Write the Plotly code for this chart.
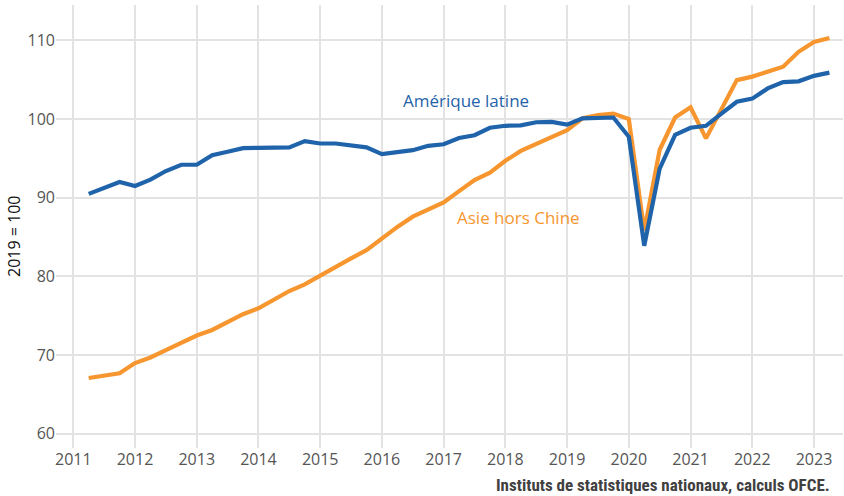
import plotly.graph_objects as go

quarters = [f"{y}Q{q}" for y in range(2011, 2024) for q in range(1, 5)]
quarters = quarters[1:quarters.index("2023Q2") + 1]
x_vals = [int(s[:4]) + (int(s[-1]) - 1) / 4 for s in quarters]

amerique_latine = [
    90.5, 91.2, 92.0, 91.5, 92.3, 93.4, 94.2,
    94.2, 95.4, 95.85, 96.3,
    96.35, 96.4, 96.4, 97.2,
    96.9, 96.9, 96.7, 96.4,
    95.55, 95.85, 96.05, 96.6,
    96.8, 97.6, 97.95, 98.9,
    99.15, 99.2, 99.6, 99.65,
    99.3, 100.1, 100.2, 100.2,
    97.75, 83.9, 93.7, 98.0,
    98.9, 99.15, 100.7, 102.2,
    102.6, 103.9, 104.7, 104.8,
    105.5, 105.9,
]

asie_hors_chine = [
    67.1, 67.35, 67.7, 69.0, 69.7, 70.65, 71.6,
    72.5, 73.2, 74.2, 75.2,
    75.95, 77.1, 78.15, 79.0,
    80.05, 81.1, 82.3, 83.35,
    84.9, 86.3, 87.6, 88.5,
    89.4, 90.85, 92.25, 93.2,
    94.7, 95.95, 96.8, 97.7,
    98.6, 100.1, 100.5, 100.7,
    100.0, 85.8, 96.1, 100.2,
    101.5, 97.55, 101.3, 104.95,
    105.4, 106.0, 106.65, 108.55,
    109.8, 110.3,
]

year_ticks = list(range(2011, 2024))
y_ticks = [60, 70, 80, 90, 100, 110]

blue = "#1F63AA"
orange = "#F7962F"

fig = go.Figure()
fig.add_trace(go.Scatter(x=x_vals, y=asie_hors_chine, mode="lines",
                         line=dict(color=orange, width=4.2), name="Asie hors Chine",
                         hoverinfo="skip"))
fig.add_trace(go.Scatter(x=x_vals, y=amerique_latine, mode="lines",
                         line=dict(color=blue, width=4.2), name="Amérique latine",
                         hoverinfo="skip"))

L, R, T, B = 56, 1, 5, 48
fig.update_layout(
    width=844, height=496,
    margin=dict(l=L, r=R, t=T, b=B),
    paper_bgcolor="white", plot_bgcolor="white",
    showlegend=False,
    font=dict(family="Open Sans, Lato, sans-serif", color="#555555", size=16),
    xaxis=dict(range=[2010.72, 2023.47], tickvals=year_ticks,
               ticktext=[str(y) for y in year_ticks],
               showgrid=True, gridcolor="#e3e3e3", gridwidth=1.5,
               zeroline=False, showline=False, ticks="",
               tickfont=dict(size=16, color="#555555")),
    yaxis=dict(range=[58.2, 114.5], tickvals=y_ticks,
               showgrid=True, gridcolor="#e3e3e3", gridwidth=1.5,
               zeroline=False, showline=False, ticks="",
               tickfont=dict(size=16, color="#555555")),
    annotations=[
        dict(text="Amérique latine", x=466, y=100,
             font=dict(size=17, color=blue)),
        dict(text="Asie hors Chine", x=518, y=218,
             font=dict(size=17, color=orange)),
        dict(text="2019 = 100", textangle=-90, x=14, y=236,
             font=dict(size=16, color="#111111")),
        dict(text="<b>Instituts de statistiques nationaux, calculs OFCE.</b>",
             x=832, y=485, xanchor="right",
             font=dict(size=17, color="#404040",
                       family="Liberation Sans Narrow, Roboto Condensed, Roboto, sans-serif")),
    ],
)

# convert pixel-based annotation positions to paper coordinates
plot_w = 844 - L - R
plot_h = 496 - T - B
for a in fig.layout.annotations:
    px, py = a.x, a.y
    a.x = (px - L) / plot_w
    a.y = 1 - (py - T) / plot_h
    a.xref = "paper"
    a.yref = "paper"
    a.showarrow = False
    a.yanchor = "middle"
    if a.xanchor is None:
        a.xanchor = "center"

fig.write_html("out.html",
               config={"displayModeBar": False},
               post_script="document.body.style.margin='0';document.body.style.overflow='hidden';")
